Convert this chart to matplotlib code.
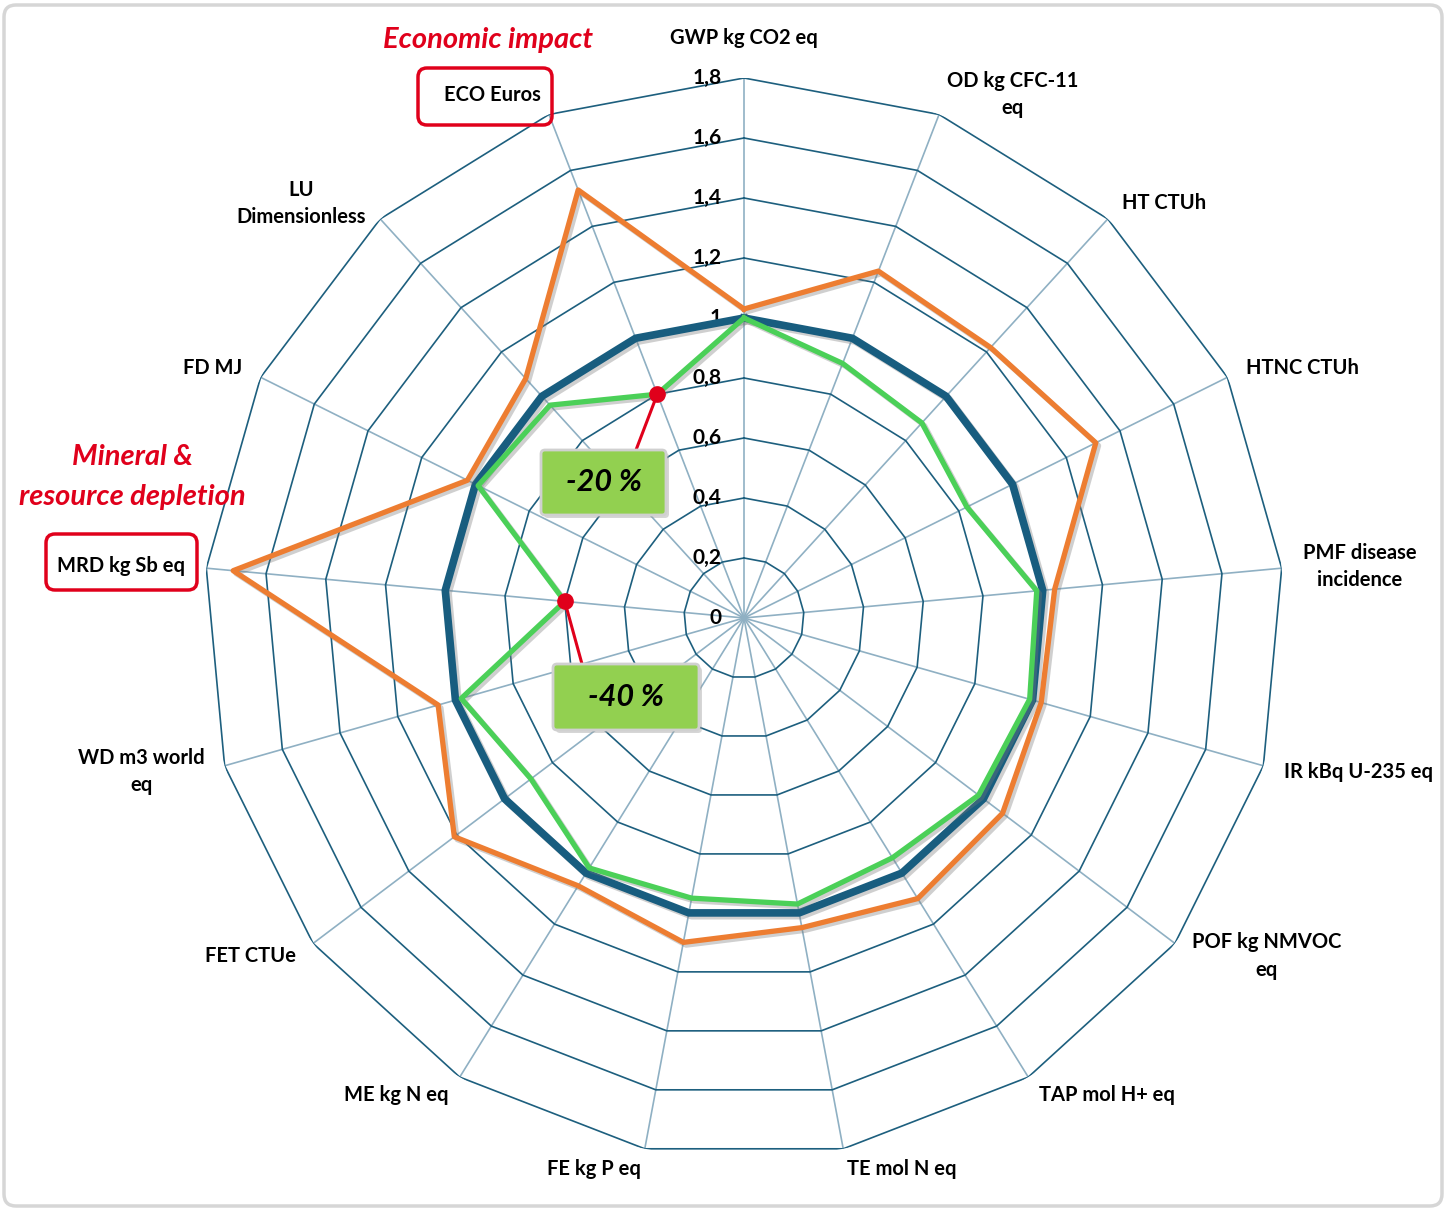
import numpy as np
import matplotlib
matplotlib.use("Agg")
import matplotlib.pyplot as plt
import matplotlib.patheffects as pe
from matplotlib.patches import FancyBboxPatch
from matplotlib.transforms import IdentityTransform

plt.rcParams['font.family'] = ['Lato', 'DejaVu Sans']

# impact categories, clockwise from the top
categories = ['GWP kg CO2 eq', 'OD kg CFC-11\neq', 'HT CTUh', 'HTNC CTUh',
              'PMF disease\nincidence', 'IR kBq U-235 eq', 'POF kg NMVOC\neq',
              'TAP mol H+ eq', 'TE mol N eq', 'FE kg P eq', 'ME kg N eq',
              'FET CTUe', 'WD m3 world\neq', 'MRD kg Sb eq', 'FD MJ',
              'LU\nDimensionless', 'ECO Euros']

# normalised scores (reference = 1)
reference = [1.0, 1.0, 1.0, 1.0, 1.0, 1.0, 1.0, 1.0, 1.0,
             1.0, 1.0, 1.0, 1.0, 1.0, 1.0, 1.0, 1.0]
scenario_high = [1.03, 1.24, 1.22, 1.31, 1.04, 1.03, 1.08, 1.10, 1.05,
                 1.10, 1.05, 1.21, 1.06, 1.71, 1.03, 1.08, 1.53]
scenario_low = [1.00, 0.91, 0.88, 0.83, 0.98, 0.99, 0.98, 0.94, 0.97,
                0.95, 0.98, 0.89, 0.98, 0.60, 0.99, 0.96, 0.80]

r_ticks = [0, 0.2, 0.4, 0.6, 0.8, 1.0, 1.2, 1.4, 1.6, 1.8]

# callouts: (category index, label)
callouts = [(16, '-20 %'), (13, '-40 %')]

W, H = 1447, 1210
fig = plt.figure(figsize=(W / 100, H / 100), dpi=100, facecolor='white')

# rounded frame round the whole chart
frame = FancyBboxPatch((4, 4), W - 9, H - 9, boxstyle='round,pad=0,rounding_size=12',
                       transform=IdentityTransform(), fc='none', ec='#d6d6d6', lw=2.5, zorder=0)
fig.patches.append(frame)

cx, cy, R = 744, 618, 540
ax = fig.add_axes([(cx - R) / W, (H - cy - R) / H, 2 * R / W, 2 * R / H], projection='polar')
ax.set_zorder(2)
ax.set_theta_zero_location('N')
ax.set_theta_direction(-1)
ax.set_ylim(0, r_ticks[-1])
ax.axis('off')

n = len(categories)
theta = np.linspace(0, 2 * np.pi, n, endpoint=False)
theta_c = np.append(theta, theta[0])

# spokes and polygon rings
for t in theta:
    ax.plot([t, t], [0, r_ticks[-1]], color='#8fb0c3', lw=1.2, zorder=1)
for r in r_ticks[1:]:
    ax.plot(theta_c, [r] * (n + 1), color='#1d5f7e', lw=1.2, zorder=1.5)

# radial tick labels along the top spoke
for r in r_ticks:
    ax.annotate(f"{r:g}".replace('.', ','), xy=(0, r), xytext=(-16, 0),
                textcoords='offset points', ha='right', va='center',
                fontsize=15, fontweight='bold', color='black', zorder=2)


def close(vals):
    return list(vals) + [vals[0]]


shadow = [pe.SimpleLineShadow(offset=(2, -2), shadow_color='#777777', alpha=0.35), pe.Normal()]
ax.plot(theta_c, close(reference), color='#185d7f', lw=5.5, zorder=3, path_effects=shadow)
ax.plot(theta_c, close(scenario_high), color='#ed7d31', lw=3.8, zorder=3.2, path_effects=shadow)
ax.plot(theta_c, close(scenario_low), color='#4bd058', lw=3.8, zorder=3.4, path_effects=shadow)

# category labels
for t, lab in zip(theta, categories):
    s = np.sin(t)
    ha = 'left' if s > 0.1 else ('right' if s < -0.1 else 'center')
    if abs(s) < 0.05:
        va, r_lab = 'bottom', 1.9
    else:
        va, r_lab = 'center', 1.87
    ax.text(t, r_lab, lab, ha=ha, va=va, multialignment='center',
            fontsize=14.5, fontweight='bold', color='black', linespacing=1.45, zorder=5)


def px_box(x0, y0, x1, y1, zorder=3, **kw):
    p = FancyBboxPatch((x0, H - y1), x1 - x0, y1 - y0, transform=IdentityTransform(),
                       zorder=zorder, **kw)
    fig.patches.append(p)


# red highlight boxes around ECO and MRD labels
px_box(418, 68, 552, 125, boxstyle='round,pad=0,rounding_size=9', fc='none', ec='#e0001b', lw=2.5)
px_box(46, 534, 197, 590, boxstyle='round,pad=0,rounding_size=9', fc='none', ec='#e0001b', lw=2.5)

fig.text(488 / W, 1 - 40 / H, 'Economic impact', color='#e0001b', fontsize=21,
         fontweight='bold', fontstyle='italic', ha='center', va='center')
fig.text(132 / W, 1 - 477 / H, 'Mineral &\nresource depletion', color='#e0001b', fontsize=21,
         fontweight='bold', fontstyle='italic', ha='center', va='center', linespacing=1.7)

# green callout boxes with red connectors
boxes = [(541, 450, 666, 515), (553, 664, 699, 730)]
anchors = [(636, 450), (582, 664)]
for (idx, txt), (x0, y0, x1, y1), (axp, ayp) in zip(callouts, boxes, anchors):
    px_box(x0 + 3, y0 + 3, x1 + 3, y1 + 3, boxstyle='round,pad=0,rounding_size=4',
           fc='#9a9a9a', ec='none', alpha=0.4, zorder=4)
    px_box(x0, y0, x1, y1, boxstyle='round,pad=0,rounding_size=4',
           fc='#92d050', ec='#d0d0d0', lw=2, zorder=5)
    fig.text((x0 + x1) / 2 / W, 1 - (y0 + y1) / 2 / H, txt, fontsize=22, fontweight='bold',
             fontstyle='italic', ha='center', va='center', color='black', zorder=6)
    ax.annotate('', xy=(theta[idx], scenario_low[idx]), xytext=(axp, H - ayp),
                textcoords='figure pixels',
                arrowprops=dict(arrowstyle='-', color='#e0001b', lw=2.2, shrinkA=0, shrinkB=0),
                zorder=6, annotation_clip=False)
    ax.plot(theta[idx], scenario_low[idx], 'o', color='#e0001b', ms=11, zorder=9, clip_on=False)

fig.savefig('out.png', dpi=100, facecolor='white')
